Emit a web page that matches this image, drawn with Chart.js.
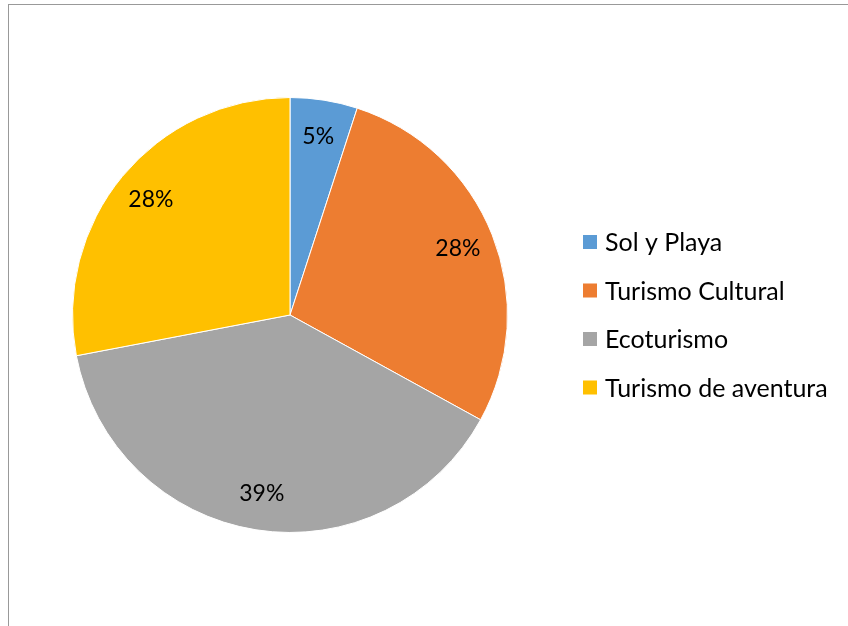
<!DOCTYPE html>
<html>
<head>
<meta charset="utf-8">
<script src="https://cdn.jsdelivr.net/npm/chart.js@4"></script>
<style>
  html,body{margin:0;padding:0;background:#fff;overflow:hidden}
  #wrap{position:relative;width:848px;height:626px}
  #frame{position:absolute;left:8px;top:4px;width:900px;height:700px;border:1px solid #999;box-sizing:border-box}
  canvas{position:absolute;left:0;top:0}
</style>
</head>
<body>
<div id="wrap">
  <div id="frame"></div>
  <canvas id="pie" width="848" height="626"></canvas>
</div>
<script>
const labels = ['Sol y Playa','Turismo Cultural','Ecoturismo','Turismo de aventura'];
const shares = [5, 28, 39, 28];
const colors = ['#5B9BD5','#ED7D31','#A5A5A5','#FFC000'];

const FONT = 'Lato, Calibri, "Liberation Sans", sans-serif';

// percentage labels inside each slice
const sliceLabels = {
  id:'sliceLabels',
  afterDatasetsDraw(chart){
    const ctx = chart.ctx;
    const total = shares.reduce((a,b)=>a+b,0);
    chart.getDatasetMeta(0).data.forEach((arc,i)=>{
      const mid = (arc.startAngle + arc.endAngle)/2;
      const r = arc.outerRadius*0.83;
      ctx.save();
      ctx.font = '23px '+FONT;
      ctx.fillStyle = '#000';
      ctx.textAlign = 'center';
      ctx.textBaseline = 'middle';
      ctx.fillText(Math.round(shares[i]/total*100)+'%', arc.x + Math.cos(mid)*r, arc.y + Math.sin(mid)*r);
      ctx.restore();
    });
  }
};

// legend on the right
const sideLegend = {
  id:'sideLegend',
  afterDraw(chart){
    const ctx = chart.ctx;
    labels.forEach((l,i)=>{
      const y = 242 + i*48.5;
      ctx.save();
      ctx.fillStyle = colors[i];
      ctx.fillRect(583, y-7, 14, 14);
      ctx.font = '25px '+FONT;
      ctx.fillStyle = '#000';
      ctx.textBaseline = 'middle';
      ctx.fillText(l, 605, y+1);
      ctx.restore();
    });
  }
};

new Chart(document.getElementById('pie'),{
  type:'pie',
  data:{labels,datasets:[{data:shares,backgroundColor:colors,borderColor:'#fff',borderWidth:1}]},
  options:{
    responsive:false,
    animation:false,
    layout:{padding:{top:97,bottom:93,left:72,right:340}},
    plugins:{legend:{display:false},tooltip:{enabled:false}}
  },
  plugins:[sliceLabels, sideLegend]
});
</script>
</body>
</html>
